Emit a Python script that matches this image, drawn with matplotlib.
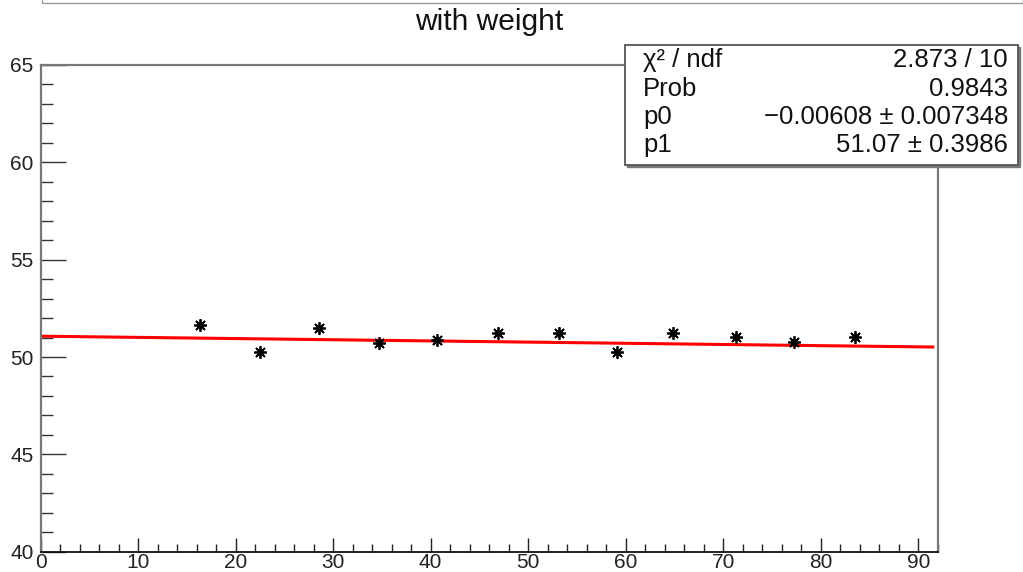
import matplotlib
matplotlib.use("Agg")
import matplotlib.pyplot as plt
from matplotlib.patches import Rectangle
from matplotlib.ticker import MultipleLocator
import numpy as np

plt.rcParams['font.family'] = ['Liberation Sans', 'DejaVu Sans']

# data
x_vals = [16.4, 22.5, 28.6, 34.7, 40.7, 46.9, 53.2, 59.1, 64.9, 71.3, 77.3, 83.5]
y_vals = [51.64, 50.27, 51.47, 50.73, 50.87, 51.22, 51.22, 50.27, 51.22, 51.01, 50.79, 51.01]
p0 = -0.00608
p1 = 51.07
fit_range = [0.0, 91.5]
title = "with weight"
stats_names = ["\u03c7\u00b2 / ndf", "Prob", "p0", "p1"]
stats_values = ["2.873 / 10", "0.9843", "\u22120.00608 \u00b1 0.007348", "51.07 \u00b1 0.3986"]

W, H = 1023, 572
fig = plt.figure(figsize=(W / 100, H / 100), dpi=100)
ax = fig.add_axes([40.5 / W, 1 - 551.7 / H, (937.7 - 40.5) / W, (551.7 - 65) / H])

ax.set_xlim(0, 92)
ax.set_ylim(40, 65)

xf = np.linspace(fit_range[0], fit_range[1], 200)
ax.plot(xf, p1 + p0 * xf, color='#ff0000', lw=2.2, zorder=2)
ax.plot(x_vals, y_vals, linestyle='none', marker=(8, 2, 0), markersize=9,
        markeredgewidth=1.3, color='black', zorder=3)

ax.xaxis.set_major_locator(MultipleLocator(10))
ax.xaxis.set_minor_locator(MultipleLocator(2))
ax.yaxis.set_major_locator(MultipleLocator(5))
ax.yaxis.set_minor_locator(MultipleLocator(1))
ax.tick_params(axis='x', which='major', direction='in', length=10, width=1.0,
               color='#222222', labelsize=15, pad=1)
ax.tick_params(axis='x', which='minor', direction='in', length=5.8, width=1.0, color='#222222')
ax.tick_params(axis='y', which='major', direction='in', length=18, width=1.0,
               color='#333333', labelsize=15, pad=5)
ax.tick_params(axis='y', which='minor', direction='in', length=8.5, width=1.0, color='#333333')
ax.tick_params(top=False, right=False, which='both')
for lab in ax.get_xticklabels() + ax.get_yticklabels():
    lab.set_color('#222222')

for side in ['left', 'top', 'right']:
    ax.spines[side].set_color('#777777')
    ax.spines[side].set_linewidth(1.6)
ax.spines['bottom'].set_color('#111111')
ax.spines['bottom'].set_linewidth(1.3)

# title
fig.text(489 / W, 1 - 22 / H, title, ha='center', va='center', fontsize=21.5, color='#111111')

# cut-off title-like box at the very top
fig.add_artist(Rectangle((42 / W, 1 - 3 / H), (W - 42) / W, 10 / H, transform=fig.transFigure,
                         fill=False, edgecolor='#999999', lw=1.0, clip_on=False))

# stats box
bx0, by0, bx1, by1 = 625, 45, 1018, 165
fig.add_artist(Rectangle(((bx0 + 2) / W, 1 - (by1 + 2) / H), (bx1 - bx0) / W, (by1 - by0) / H,
                         transform=fig.transFigure, facecolor='#777777', edgecolor='#777777',
                         lw=1.0, zorder=4))
fig.add_artist(Rectangle((bx0 / W, 1 - by1 / H), (bx1 - bx0) / W, (by1 - by0) / H,
                         transform=fig.transFigure, facecolor='white', edgecolor='#555555',
                         lw=1.3, zorder=5))
baselines = [67, 96, 124, 152]
for name, val, yb in zip(stats_names, stats_values, baselines):
    fig.text(643 / W, 1 - yb / H, name, ha='left', va='baseline', fontsize=18.5,
             color='#111111', zorder=6)
    fig.text(1008 / W, 1 - yb / H, val, ha='right', va='baseline', fontsize=18.5,
             color='#111111', zorder=6)

fig.savefig("out.png", dpi=100)
